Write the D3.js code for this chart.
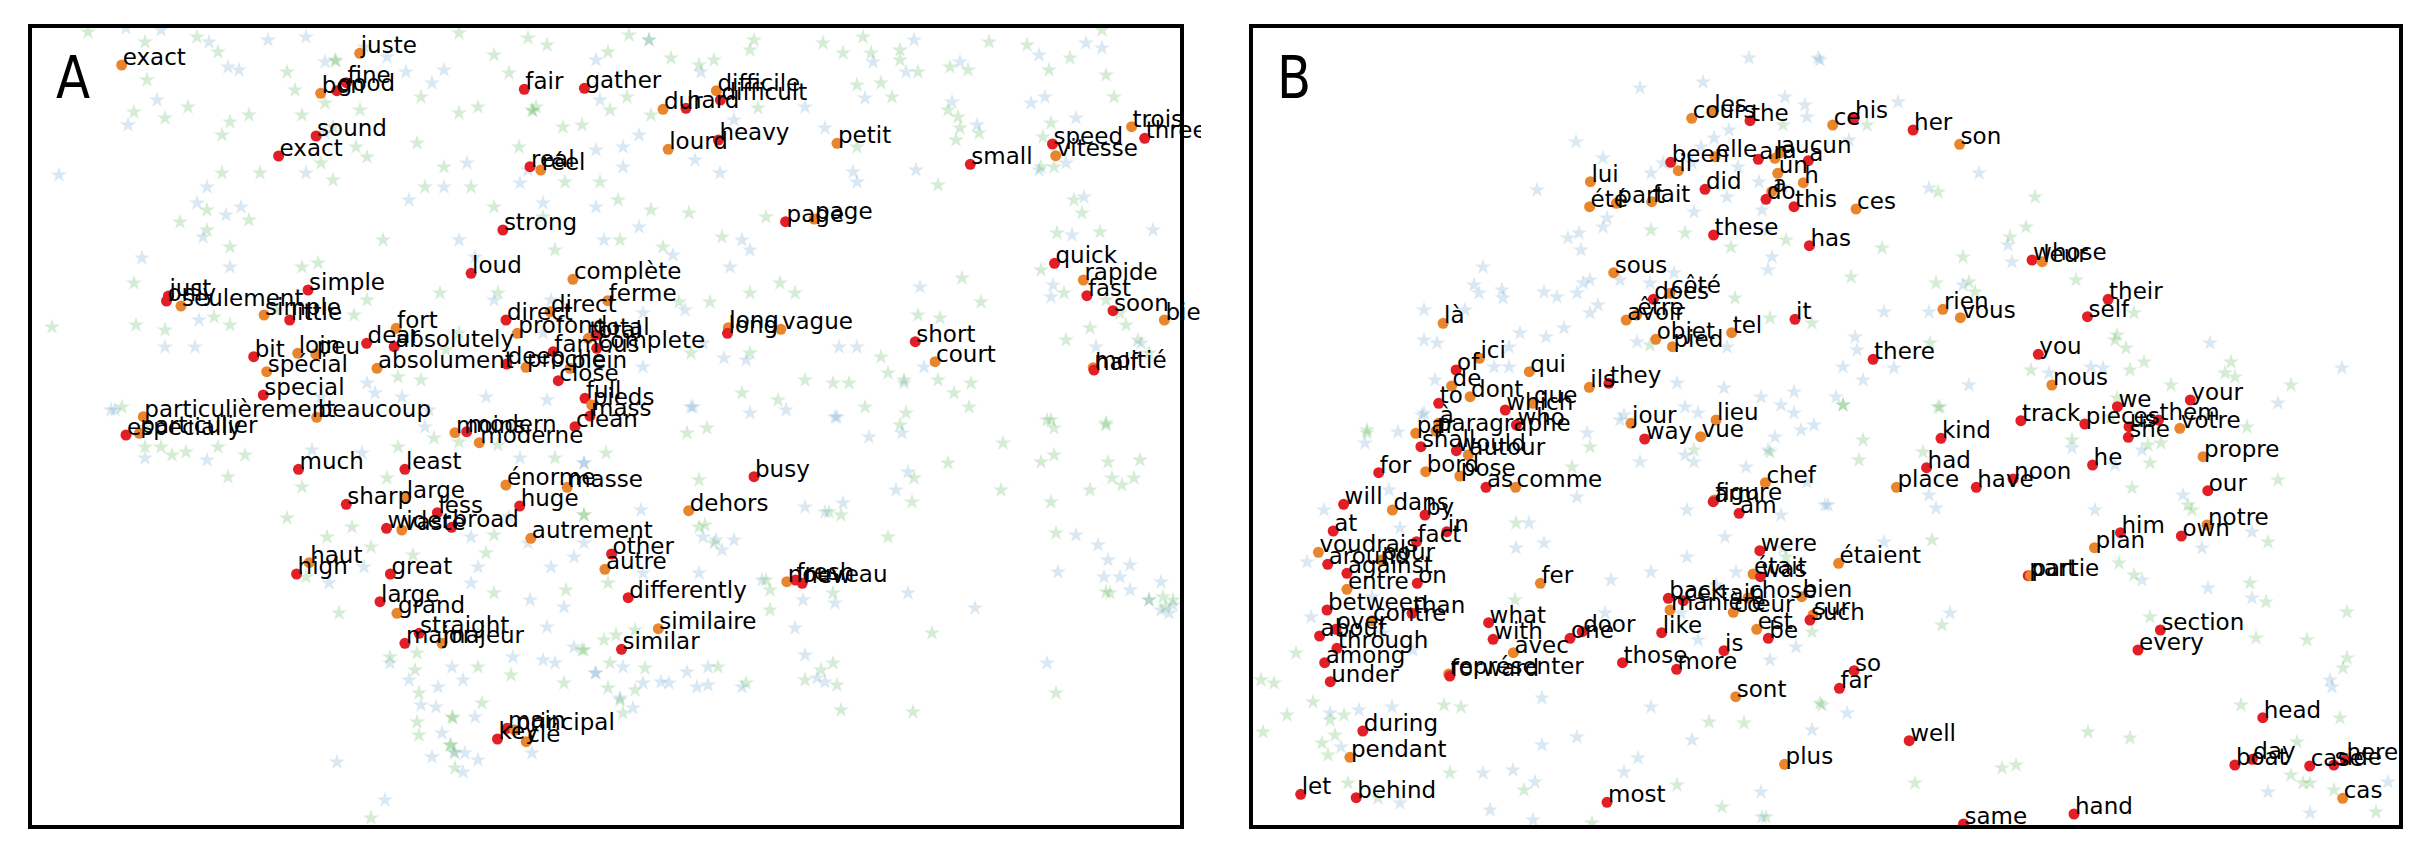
<!DOCTYPE html>
<html>
<head>
<meta charset="utf-8">
<script src="https://cdn.jsdelivr.net/npm/d3@7"></script>
<style>
    body { margin: 0; background: #fff; }
    svg { display: block; }
</style>
</head>
<body>
<div id="chart"></div>
<script>
// word positions, in its own pixel frame: [label, x, y, language]
const wordsA = [
    ["exact", 121.7, 65, "fr"], ["juste", 359.7, 53.3, "fr"], ["fine", 346.4, 82.7, "en"],
    ["bon", 320.7, 93.3, "fr"], ["good", 336.8, 90.7, "en"], ["sound", 316.1, 136, "en"],
    ["exact", 278.6, 156, "en"], ["fair", 524.3, 89.3, "en"], ["gather", 584.4, 88.3, "en"],
    ["dur", 663, 109.3, "fr"], ["hard", 686, 108.3, "en"], ["difficile", 716.4, 90.7, "fr"],
    ["difficult", 720.4, 100, "en"], ["lourd", 668.2, 149.3, "fr"], ["heavy", 718.4, 140, "en"],
    ["petit", 837, 143.3, "fr"], ["small", 970.3, 164.3, "en"], ["speed", 1052.5, 144, "en"],
    ["vitesse", 1055.7, 155.7, "fr"], ["trois", 1131.6, 126.7, "fr"], ["three", 1144.7, 138.3, "en"],
    ["real", 530, 166.7, "en"], ["réel", 540.8, 170, "fr"], ["strong", 502.9, 230, "en"],
    ["page", 785.6, 221.7, "en"], ["page", 814.1, 219, "fr"], ["loud", 471.1, 273.3, "en"],
    ["complète", 572.9, 279.3, "fr"], ["quick", 1054.5, 263.3, "en"], ["rapide", 1083.4, 280, "fr"],
    ["fast", 1086.9, 295.7, "en"], ["soon", 1113, 310.7, "en"], ["bien", 1164.4, 320, "fr"],
    ["just", 168.4, 296, "en"], ["only", 166.5, 301, "en"], ["seulement", 181, 306, "fr"],
    ["simple", 308.1, 290, "en"], ["simple", 264.1, 315, "fr"], ["little", 289.7, 320, "en"],
    ["fort", 396.1, 328.3, "fr"], ["dear", 366.6, 343.3, "en"], ["absolutely", 394.2, 346.7, "en"],
    ["bit", 253.7, 356.7, "en"], ["loin", 297.7, 353.3, "fr"], ["peu", 315.7, 354, "fr"],
    ["spécial", 266.7, 371.7, "fr"], ["absolument", 377, 368.3, "fr"], ["special", 263.3, 395, "en"],
    ["particulièrement", 143.3, 416.7, "fr"], ["particulier", 139.3, 433.3, "fr"],
    ["especially", 126, 435, "en"], ["beaucoup", 316.7, 417.3, "fr"],
    ["direct", 506, 320, "en"], ["direct", 550, 311.7, "fr"], ["ferme", 607.7, 300.7, "fr"],
    ["profond", 517.3, 333.3, "fr"], ["total", 588.3, 338.3, "fr"], ["total", 596, 335, "en"],
    ["famous", 553.3, 351.7, "en"], ["complete", 596.7, 348.3, "en"], ["deep", 506.7, 364, "en"],
    ["proche", 526, 367.3, "fr"], ["plein", 570, 368.3, "fr"], ["close", 558.3, 380.7, "en"],
    ["full", 585, 398.3, "en"], ["pieds", 591.7, 405, "fr"], ["mass", 590, 416, "en"],
    ["clean", 575, 426.7, "en"], ["moins", 455, 432.7, "fr"], ["modern", 466.7, 431.7, "en"],
    ["moderne", 479.3, 442.7, "fr"], ["long", 728.3, 327.7, "fr"], ["long", 727.5, 333.3, "en"],
    ["vague", 780.9, 329.3, "fr"], ["short", 915.3, 341.7, "en"], ["court", 935.1, 361.7, "fr"],
    ["moitié", 1093.2, 367.7, "fr"], ["half", 1094, 370, "en"], ["much", 298.5, 469.3, "en"],
    ["least", 404.9, 469.3, "en"], ["busy", 754, 476.7, "en"], ["énorme", 505.9, 485, "fr"],
    ["masse", 567.2, 487.3, "fr"], ["sharp", 346.3, 504.3, "en"], ["large", 405.7, 498.3, "fr"],
    ["huge", 519.7, 506, "en"], ["less", 437.4, 512.7, "en"], ["dehors", 688.7, 510.7, "fr"],
    ["vaste", 401.8, 530, "fr"], ["wider", 386.5, 528.3, "en"], ["broad", 451.6, 527.3, "en"],
    ["autrement", 530.8, 538.3, "fr"], ["other", 611.6, 554, "en"], ["autre", 604.9, 569.3, "fr"],
    ["haut", 309.2, 562.7, "fr"], ["high", 296.6, 574, "en"], ["great", 390.4, 574, "en"],
    ["nouveau", 786.8, 581.7, "fr"], ["fresh", 795.5, 580, "en"], ["new", 802.2, 583.3, "en"],
    ["differently", 628.2, 597.7, "en"], ["large", 380, 601.7, "en"], ["grand", 396.9, 613.3, "fr"],
    ["similaire", 658.3, 628.7, "fr"], ["straight", 419.1, 633.3, "en"], ["major", 404.9, 643.3, "en"],
    ["majeur", 442, 643.3, "fr"], ["similar", 621.5, 649.3, "en"], ["main", 507.1, 728.3, "en"],
    ["principal", 514.7, 730, "fr"], ["key", 497.5, 739, "en"], ["clé", 526.2, 741.7, "fr"]
];

const wordsB = [
    ["les", 1713.3, 111.7, "fr"], ["cours", 1691.7, 118.3, "fr"], ["the", 1750, 120.7, "en"],
    ["ce", 1832.7, 125, "fr"], ["his", 1854.1, 118.3, "en"], ["her", 1913.1, 130, "en"],
    ["son", 1959.6, 144.3, "fr"], ["been", 1670.7, 162.3, "en"], ["il", 1678.3, 170.7, "fr"],
    ["elle", 1715, 156.7, "fr"], ["an", 1758.3, 159.3, "en"], ["la", 1775, 158.3, "fr"],
    ["aucun", 1780, 153, "fr"], ["un", 1777.7, 173.3, "fr"], ["a", 1808.3, 160.7, "en"],
    ["h", 1803.3, 182.7, "fr"], ["lui", 1590.4, 181.7, "fr"], ["été", 1589.6, 206.7, "fr"],
    ["part", 1616.3, 203.3, "fr"], ["fait", 1651.7, 201.7, "fr"], ["did", 1705, 189.3, "en"],
    ["a", 1771.7, 191.7, "fr"], ["do", 1766, 199.3, "en"], ["this", 1794, 206.7, "en"],
    ["ces", 1856.1, 209, "fr"], ["these", 1713.6, 235, "en"], ["has", 1809.4, 245.7, "en"],
    ["whose", 2032.1, 260, "en"], ["leur", 2042.2, 261.7, "fr"], ["sous", 1613.7, 272.7, "fr"],
    ["côté", 1669.9, 293.3, "fr"], ["does", 1653.3, 299.3, "en"], ["their", 2108.1, 299.3, "en"],
    ["rien", 1942.9, 309.3, "fr"], ["vous", 1960.4, 317.7, "fr"], ["self", 2087.5, 316.7, "en"],
    ["être", 1636.6, 315, "fr"], ["avoir", 1626.2, 320, "fr"], ["it", 1795, 319.3, "en"],
    ["là", 1443.1, 323.3, "fr"], ["tel", 1731.7, 332.7, "fr"], ["objet", 1655.8, 339.3, "fr"],
    ["pied", 1672.5, 346.7, "fr"], ["you", 2038.3, 354.3, "en"], ["ici", 1479.4, 358.3, "fr"],
    ["there", 1873.1, 359.3, "en"], ["of", 1456.1, 370, "en"], ["qui", 1529.3, 371.7, "fr"],
    ["they", 1608.9, 383.3, "en"], ["ils", 1589.3, 387.3, "fr"], ["de", 1451.6, 386, "fr"],
    ["nous", 2051.9, 385, "fr"], ["dont", 1470.1, 396.7, "fr"], ["que", 1533, 403.3, "fr"],
    ["to", 1438.7, 403.3, "en"], ["your", 2190.3, 400, "en"], ["we", 2117.4, 406.7, "en"],
    ["which", 1505.3, 410, "en"], ["lieu", 1716.1, 420, "fr"], ["jour", 1631, 423.3, "fr"],
    ["track", 2020.9, 420.7, "en"], ["them", 2158.5, 420, "en"], ["pieces", 2084.8, 424, "en"],
    ["us", 2129, 426.7, "en"], ["votre", 2179.8, 428.3, "fr"], ["à", 1438.7, 423.3, "fr"],
    ["who", 1516.4, 425, "en"], ["par", 1415.7, 433.3, "fr"], ["paragraphe", 1436, 431, "fr"],
    ["vue", 1700.6, 436.7, "fr"], ["way", 1644.7, 439, "en"], ["she", 2128.3, 437.3, "en"],
    ["kind", 1941, 438.3, "en"], ["shall", 1420.9, 446.7, "en"], ["would", 1456.4, 450.7, "en"],
    ["autour", 1468.3, 455, "fr"], ["propre", 2203.1, 456.7, "fr"], ["he", 2092.6, 465, "en"],
    ["had", 1926.6, 467.7, "en"], ["for", 1378.7, 472.7, "en"], ["bord", 1425.7, 471.7, "fr"],
    ["pose", 1459.8, 476, "fr"], ["noon", 2013.1, 479, "en"], ["chef", 1765.4, 482.7, "fr"],
    ["as", 1486, 487.3, "en"], ["comme", 1515.6, 487.3, "fr"], ["place", 1896.4, 487.3, "fr"],
    ["have", 1976.3, 487.3, "en"], ["our", 2207.8, 490.7, "en"], ["figure", 1714.3, 500, "fr"],
    ["arm", 1713.2, 501.7, "en"], ["am", 1739.1, 513.3, "en"], ["will", 1343.6, 504.3, "en"],
    ["dans", 1392.4, 510, "fr"], ["by", 1425, 515, "en"], ["notre", 2207, 525, "fr"],
    ["at", 1333.2, 531, "en"], ["in", 1446.8, 531.7, "en"], ["him", 2120.5, 532.7, "en"],
    ["own", 2181.4, 536, "en"], ["fact", 1416.5, 541.7, "en"], ["plan", 2094.5, 547.7, "fr"],
    ["were", 1759.8, 550.7, "en"], ["voudrais", 1318.4, 552.3, "fr"], ["pour", 1381.3, 560, "fr"],
    ["around", 1327.7, 564.3, "en"], ["étaient", 1838.6, 563.3, "fr"], ["against", 1346.9, 573.3, "en"],
    ["était", 1753.1, 574, "fr"], ["was", 1760.5, 576.7, "en"], ["part", 2028.2, 575.7, "en"],
    ["partie", 2030.5, 575.7, "fr"], ["fer", 1540.4, 583.3, "fr"], ["on", 1417.2, 583.3, "en"],
    ["entre", 1346.9, 589.3, "fr"], ["back", 1668.3, 598.3, "en"], ["certain", 1683.3, 600.7, "en"],
    ["chose", 1748, 598, "fr"], ["bien", 1801.7, 596.7, "fr"], ["manière", 1670, 610, "fr"],
    ["between", 1327, 610, "en"], ["cœur", 1733.3, 612.3, "fr"], ["than", 1412, 613.3, "en"],
    ["sur", 1813, 615, "fr"], ["such", 1810, 620, "en"], ["contre", 1372.1, 620.7, "fr"],
    ["what", 1488.6, 622.7, "en"], ["over", 1335.8, 629.3, "en"], ["est", 1756.7, 629.3, "fr"],
    ["section", 2160.4, 630, "en"], ["door", 1582.2, 631.7, "en"], ["like", 1661.7, 632.7, "en"],
    ["about", 1319.6, 636, "en"], ["one", 1570, 638.3, "en"], ["be", 1768.3, 638.3, "en"],
    ["with", 1493.1, 639.3, "en"], ["through", 1336.9, 648.3, "en"], ["every", 2138, 650, "en"],
    ["is", 1724, 650.7, "en"], ["avec", 1513.4, 652.7, "fr"], ["among", 1324.7, 662.7, "en"],
    ["those", 1622.5, 662.7, "en"], ["more", 1676.6, 669.3, "en"], ["so", 1854.1, 670.7, "en"],
    ["représenter", 1448.7, 674, "fr"], ["forward", 1449.8, 676, "en"], ["under", 1330.3, 681.7, "en"],
    ["far", 1839.4, 688.3, "en"], ["sont", 1735.8, 696.7, "fr"], ["head", 2262.8, 717.7, "en"],
    ["during", 1362.8, 731, "en"], ["well", 1909.2, 740.7, "en"], ["pendant", 1349.9, 757.3, "fr"],
    ["day", 2252.3, 759.3, "en"], ["here", 2345.4, 760, "en"], ["plus", 1784.6, 764.3, "fr"],
    ["boat", 2234.9, 765, "en"], ["side", 2333.8, 765, "en"], ["case", 2309.7, 766, "en"],
    ["let", 1300.7, 794.3, "en"], ["behind", 1356.2, 797.7, "en"], ["cas", 2342.7, 798.3, "fr"],
    ["most", 1607, 802.3, "en"], ["hand", 2074, 814, "en"], ["same", 1963.5, 824, "en"]
];

// faint background vocabulary, same frame: [x, y]
const starsABlue = [
    [126,28],[161,30],[209,42],[228,67],[239,70],[157,100],[128,125],[59,175],[197,203],[207,187],[226,215],[241,207],
    [142,258],[230,267],[203,237],[199,320],[195,347],[165,347],[268,40],[306,37],[325,62],[364,47],[387,57],[406,72],
    [432,83],[444,70],[409,200],[444,187],[467,163],[520,183],[543,203],[528,170],[459,240],[475,257],[494,300],[551,300],
    [543,333],[547,400],[375,393],[402,397],[367,383],[486,397],[429,410],[321,397],[291,410],[115,410],[325,133],[306,173],
    [649,40],[596,60],[600,100],[701,72],[734,120],[639,135],[623,167],[720,173],[695,160],[805,107],[825,128],[853,172],
    [857,182],[865,98],[916,170],[873,62],[906,72],[914,40],[960,62],[952,102],[977,125],[1031,103],[1045,97],[1076,118],
    [1039,55],[1086,43],[1102,48],[1039,170],[1066,163],[1084,197],[1072,235],[1153,230],[1053,285],[1051,297],[1096,347],
    [1141,343],[920,287],[904,383],[924,367],[857,347],[839,347],[724,358],[703,343],[643,367],[746,360],[693,407],[750,413],
    [786,410],[837,417],[596,207],[604,240],[639,227],[673,255],[685,310],[730,267],[742,240],[750,250],[596,150],[623,147],
    [643,313],[111,410],[145,458],[207,460],[312,450],[362,453],[425,427],[513,427],[520,458],[584,463],[509,517],[471,537],
    [528,543],[574,557],[551,567],[478,567],[329,583],[364,567],[471,583],[530,600],[564,607],[547,627],[478,633],[513,657],
    [543,660],[574,647],[555,663],[595,673],[452,667],[463,680],[409,680],[438,687],[421,705],[436,707],[475,717],[442,733],
    [432,757],[465,753],[478,760],[463,772],[455,753],[337,762],[385,800],[532,753],[390,663],[691,407],[835,417],[869,437],
    [902,433],[908,472],[896,490],[805,507],[843,503],[825,512],[641,510],[584,463],[703,537],[716,540],[734,540],[722,550],
    [699,573],[643,573],[584,543],[762,580],[803,600],[835,603],[908,593],[795,628],[975,608],[1076,535],[1098,545],[1108,560],
    [1130,565],[1058,572],[1104,577],[1120,577],[1130,590],[1161,582],[1149,600],[1161,610],[1169,613],[1173,605],[805,655],
    [596,673],[623,667],[661,682],[669,683],[687,672],[708,667],[697,687],[708,685],[742,687],[817,678],[825,682],[633,708],
    [620,698],[1047,663],[643,683]
];

const starsAGreen = [
    [88,32],[145,42],[197,37],[218,52],[147,80],[134,112],[165,118],[188,107],[230,122],[249,115],[222,135],[287,72],
    [295,90],[302,115],[325,103],[360,110],[333,127],[356,147],[367,157],[321,163],[333,180],[222,173],[260,173],[207,210],
    [230,247],[249,220],[180,222],[207,230],[134,283],[52,327],[136,325],[165,330],[214,317],[230,325],[276,310],[302,267],
    [318,263],[354,315],[367,300],[440,293],[459,333],[446,350],[498,293],[398,377],[421,380],[459,33],[494,55],[528,38],
    [547,45],[509,73],[536,107],[478,107],[563,127],[582,125],[519,147],[565,182],[459,113],[421,97],[471,187],[494,207],
    [543,217],[555,250],[383,240],[417,143],[444,167],[425,187],[335,60],[336,61],[532,110],[533,111],
    [629,35],[649,40],[608,52],[671,58],[699,65],[714,60],[754,40],[750,50],[823,43],[843,53],[863,37],[871,53],
    [900,50],[900,60],[918,72],[950,67],[968,70],[989,42],[1027,45],[1049,70],[1070,58],[1106,75],[1114,97],[1102,30],
    [892,97],[881,83],[857,85],[758,108],[651,115],[610,110],[627,97],[948,110],[958,117],[960,128],[979,133],[956,140],
    [1043,137],[1051,123],[1054,167],[1041,167],[857,147],[938,185],[600,182],[618,200],[651,210],[689,213],[766,217],[722,237],
    [663,247],[620,240],[1074,200],[1082,213],[1057,233],[1100,232],[1041,270],[1064,293],[1106,300],[1120,313],[1090,328],
    [1126,325],[1138,340],[1066,340],[1149,353],[981,302],[962,278],[918,315],[940,318],[881,357],[888,373],[904,380],[938,380],
    [954,393],[971,383],[805,380],[833,383],[849,383],[742,393],[778,400],[750,353],[795,293],[780,283],[750,293],[710,302],
    [679,302],[691,353],[1047,420],[1106,423],
    [122,407],[144,427],[145,447],[161,447],[172,455],[186,452],[218,447],[245,455],[228,477],[302,487],[287,518],[352,527],
    [371,547],[387,478],[398,447],[434,438],[459,442],[498,445],[555,458],[584,515],[494,535],[486,553],[413,555],[494,593],
    [566,590],[582,650],[564,683],[511,675],[478,667],[417,653],[390,657],[415,670],[419,693],[482,703],[417,722],[419,735],
    [452,717],[450,745],[454,752],[455,768],[451,745],[453,718],[339,613],[371,818],[306,577],[327,537],
    [865,407],[906,413],[900,425],[969,407],[1051,420],[1054,428],[1106,425],[1003,443],[1041,462],[1054,455],[948,463],
    [1108,462],[1112,478],[1122,485],[1134,478],[1140,460],[1090,490],[1001,490],[912,502],[914,478],[1051,502],[1056,533],
    [888,537],[699,480],[687,433],[707,428],[606,453],[584,515],[699,527],[705,525],[714,543],[829,512],[841,515],[766,580],
    [770,590],[833,593],[770,610],[1106,592],[1110,593],[1149,600],[1165,607],[1173,600],[1163,597],[932,633],[604,640],
    [616,635],[635,630],[610,663],[645,668],[718,667],[746,683],[805,680],[821,670],[833,663],[837,685],[620,700],[623,713],
    [608,688],[635,690],[841,710],[913,712],[1056,693],[584,650],[608,583]
];

const starsBBlue = [
    [1749,58],[1818,58],[1703,82],[1640,88],[1785,97],[1805,105],[1807,117],[1729,130],[1714,138],[1701,147],[1576,142],
    [1603,158],[1651,173],[1663,163],[1692,163],[1738,167],[1759,182],[1727,197],[1694,212],[1762,210],[1783,187],[1768,230],
    [1537,190],[1607,218],[1603,227],[1579,233],[1568,238],[1581,250],[1772,257],[1768,270],[1674,273],[1650,283],[1620,280],
    [1590,280],[1583,283],[1483,267],[1474,285],[1479,293],[1502,290],[1503,298],[1544,292],[1557,297],[1577,293],[1598,305],
    [1590,313],[1564,328],[1546,337],[1520,333],[1465,310],[1424,310],[1424,340],[1437,343],[1509,347],[1494,367],[1509,367],
    [1435,380],[1677,383],[1724,388],[1761,397],[1794,392],[1781,405],[1794,413],[1814,425],[1624,415],[1685,407],[1698,413],
    [1422,415],[1637,342],[1700,337],[1727,347],
    [1820,60],[1898,102],[1849,140],[1979,173],[1929,188],[2008,245],[2012,262],[1884,312],[1929,312],[1855,337],[1857,350],
    [1843,367],[1863,380],[1894,368],[1969,385],[1836,397],[2049,373],[2091,367],[2103,368],[2210,343],[2342,368],[2278,403],
    [1963,285],
    [1365,443],[1398,432],[1424,413],[1587,433],[1620,420],[1640,462],[1685,455],[1694,462],[1746,467],[1768,450],[1801,430],
    [1775,437],[1807,482],[1825,505],[1687,510],[1781,515],[1577,497],[1529,523],[1544,543],[1516,548],[1725,537],[1687,557],
    [1651,572],[1611,580],[1736,572],[1783,548],[1716,585],[1681,613],[1770,660],[1796,647],[1698,640],[1605,613],[1542,698],
    [1651,707],[1812,730],[1577,737],[1542,745],[1692,740],[1638,758],[1624,772],[1761,792],[1490,810],[1533,820],[1762,817],
    [1483,773],[1513,770],[1535,782],[1400,803],[1392,707],[1330,713],[1359,710],[1311,617],[1372,597],[1383,633],[1307,562],
    [1324,510],[1389,490],[1400,528],[1402,557],[1413,650],[1341,747],
    [1828,505],[1936,508],[1929,495],[2095,510],[2183,495],[2202,548],[2252,532],[2142,580],[2208,588],[2252,598],[1884,542],
    [1950,613],[2332,687],[2330,680],[1847,713],[2268,792],[2388,782],[2310,813],[2072,448],[2142,450],[2115,465]
];

const starsBGreen = [
    [1783,125],[1651,230],[1685,233],[1731,247],[1786,240],[1735,298],[1770,318],[1812,323],[1650,345],[1367,430],
    [1867,125],[1938,192],[2035,197],[2026,227],[2010,237],[1882,248],[1851,277],[1963,257],[1936,283],[1969,282],[1975,292],
    [2076,280],[2134,313],[2117,335],[2115,340],[2126,348],[2031,370],[2130,370],[2144,362],[2171,385],[2231,362],[2225,373],
    [2235,377],[2291,385],[1938,407],[1843,405],[2117,398],[2111,417],[2208,417],[2247,427],[1930,343],
    [1367,433],[1590,447],[1572,467],[1694,450],[1770,452],[1516,523],[1515,600],[1786,557],[1812,632],[1261,680],[1274,683],
    [1296,653],[1313,702],[1287,715],[1330,720],[1344,715],[1263,732],[1322,743],[1328,755],[1335,735],[1444,705],[1461,707],
    [1709,722],[1744,723],[1822,705],[1450,773],[1524,790],[1677,785],[1722,807],[1766,817],[1378,798],[1348,783],[1592,823],
    [1843,405],[1940,407],[1863,440],[1859,460],[1923,452],[2072,440],[2148,445],[2161,443],[2132,488],[2188,505],[2192,510],
    [2278,480],[2268,542],[1932,540],[2119,563],[2134,575],[2150,617],[2250,583],[2266,602],[2347,612],[2256,638],[2307,640],
    [2347,658],[2343,668],[1942,625],[1820,703],[2241,705],[2340,718],[2297,742],[2291,775],[2303,783],[2310,783],[2334,790],
    [2376,812],[2088,732],[2130,738],[2002,768],[2016,765],[1915,783],[2150,463]
];

const panelLabels = ["A", "B"];

const width = 2428;
const height = 858;
const langColor = { en: "#e21f26", fr: "#e9862d" };

// axes boxes of the two panels in the reference frame (also their data extents)
const panels = [
    { label: panelLabels[0], words: wordsA, blue: starsABlue, green: starsAGreen,
      box: { left: 30, right: 1182, top: 26, bottom: 827 }, textRight: 1201 },
    { label: panelLabels[1], words: wordsB, blue: starsBBlue, green: starsBGreen,
      box: { left: 1251, right: 2401, top: 26, bottom: 827 }, textRight: width }
];

const svg = d3.select("#chart")
    .append("svg")
    .attr("width", width)
    .attr("height", height)
    .attr("viewBox", `0 0 ${width} ${height}`);

const defs = svg.append("defs");
const star = d3.symbol().type(d3.symbolStar).size(80);

panels.forEach((p, i) => {
    const x = d3.scaleLinear()
        .domain([p.box.left, p.box.right])
        .range([p.box.left, p.box.right]);
    const y = d3.scaleLinear()
        .domain([p.box.top, p.box.bottom])
        .range([p.box.top, p.box.bottom]);

    defs.append("clipPath").attr("id", `marks-${i}`)
        .append("rect")
        .attr("x", x.range()[0]).attr("y", y.range()[0])
        .attr("width", x.range()[1] - x.range()[0])
        .attr("height", y.range()[1] - y.range()[0]);
    defs.append("clipPath").attr("id", `texts-${i}`)
        .append("rect")
        .attr("x", x.range()[0] - 20).attr("y", 0)
        .attr("width", p.textRight - x.range()[0] + 20)
        .attr("height", height);

    const g = svg.append("g");
    const marks = g.append("g").attr("clip-path", `url(#marks-${i})`);

    marks.append("g")
        .selectAll("path")
        .data(p.blue)
        .join("path")
        .attr("d", star)
        .attr("transform", d => `translate(${x(d[0])},${y(d[1])})`)
        .attr("fill", "#1f77b4")
        .attr("fill-opacity", 0.17);

    marks.append("g")
        .selectAll("path")
        .data(p.green)
        .join("path")
        .attr("d", star)
        .attr("transform", d => `translate(${x(d[0])},${y(d[1])})`)
        .attr("fill", "#2ca02c")
        .attr("fill-opacity", 0.2);

    marks.append("g")
        .selectAll("circle")
        .data(p.words)
        .join("circle")
        .attr("cx", d => x(d[1]))
        .attr("cy", d => y(d[2]))
        .attr("r", 5.5)
        .attr("fill", d => langColor[d[3]]);

    g.append("g")
        .attr("clip-path", `url(#texts-${i})`)
        .selectAll("text")
        .data(p.words)
        .join("text")
        .attr("x", d => x(d[1]) + 1)
        .attr("y", d => y(d[2]))
        .attr("font-family", "DejaVu Sans")
        .attr("font-size", 23)
        .attr("fill", "#000")
        .text(d => d[0]);

    g.append("rect")
        .attr("x", x.range()[0]).attr("y", y.range()[0])
        .attr("width", x.range()[1] - x.range()[0])
        .attr("height", y.range()[1] - y.range()[0])
        .attr("fill", "none")
        .attr("stroke", "#000")
        .attr("stroke-width", 4);

    g.append("text")
        .attr("transform", `translate(${x.range()[0] + 26},${y.range()[0] + 72}) scale(0.86,1)`)
        .attr("font-family", "DejaVu Sans")
        .attr("font-size", 58)
        .attr("fill", "#000")
        .text(p.label);
});
</script>
</body>
</html>
